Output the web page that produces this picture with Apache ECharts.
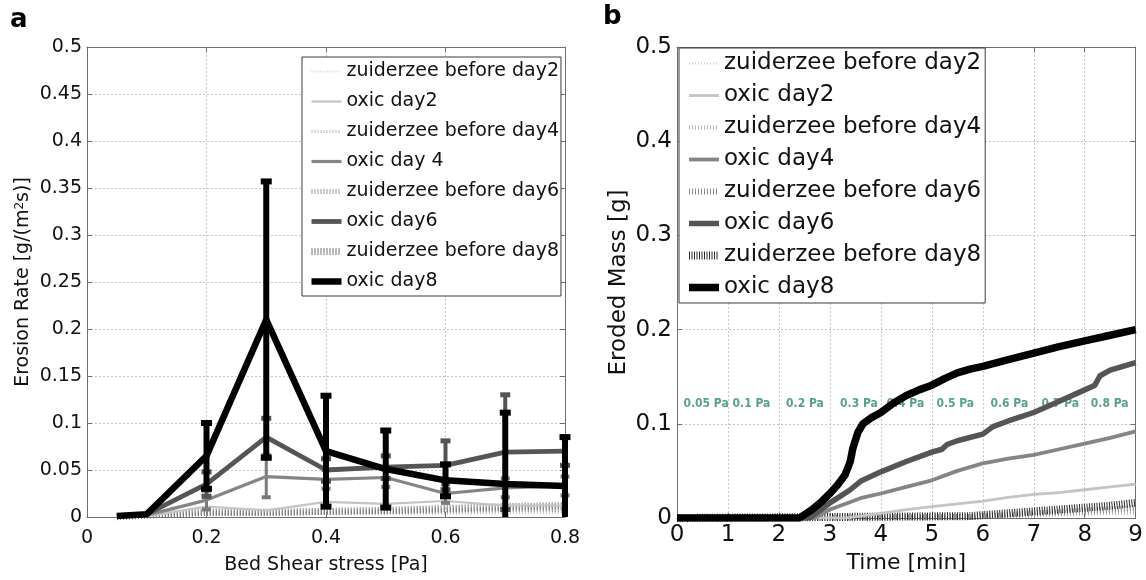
<!DOCTYPE html>
<html><head><meta charset="utf-8">
<script src="https://cdn.jsdelivr.net/npm/echarts/dist/echarts.min.js"></script>
<style>html,body{margin:0;padding:0;background:#fff}#c{width:1146px;height:580px}</style>
</head><body><div id="c"></div>
<script>
// ---------- Panel a data ----------
const xStress = [0.05, 0.1, 0.2, 0.3, 0.4, 0.5, 0.6, 0.7, 0.8];
const aZd2 = [0, 0.001, 0.002, 0.002, 0.003, 0.003, 0.003, 0.004, 0.004];
const aZd4 = [0, 0.001, 0.003, 0.003, 0.004, 0.004, 0.005, 0.006, 0.006];
const aZd6 = [0, 0.001, 0.004, 0.004, 0.005, 0.006, 0.007, 0.008, 0.009];
const aZd8 = [0, 0.002, 0.005, 0.005, 0.006, 0.007, 0.009, 0.011, 0.012];
const aOx2 = [0.001, 0.001, 0.011, 0.007, 0.016, 0.014, 0.017, 0.012, 0.012];
const aOx4 = [0.001, 0.002, 0.018, 0.043, 0.040, 0.042, 0.025, 0.031, 0.033];
const aOx6 = [0.001, 0.003, 0.035, 0.085, 0.050, 0.053, 0.055, 0.069, 0.070];
const aOx8 = [0.001, 0.003, 0.065, 0.210, 0.070, 0.051, 0.039, 0.035, 0.033];
const aErr4 = [0, 0, 0.010, 0.022, 0.010, 0.010, 0.010, 0.010, 0.010];
const aErr6 = [0, 0, 0.013, 0.020, 0.012, 0.012, 0.026, 0.061, 0.015];
const aErr8 = [0, 0, 0.035, 0.147, 0.059, 0.041, 0.017, 0.076, 0.052];
const aNames = ['zuiderzee before day2', 'oxic day2', 'zuiderzee before day4', 'oxic day 4',
  'zuiderzee before day6', 'oxic day6', 'zuiderzee before day8', 'oxic day8'];

// ---------- Panel b data ----------
const rT8 = [0, 2.4, 2.65, 2.85, 3.0, 3.15, 3.3, 3.4, 3.45, 3.55, 3.65, 3.8, 4.0, 4.25, 4.5, 4.75, 5.0, 5.25, 5.5, 5.75, 6.0, 6.5, 7.0, 7.5, 8.0, 8.5, 9.0];
const rV8 = [0, 0, 0.009, 0.018, 0.026, 0.035, 0.046, 0.060, 0.074, 0.091, 0.100, 0.106, 0.112, 0.122, 0.130, 0.136, 0.141, 0.148, 0.154, 0.158, 0.161, 0.168, 0.175, 0.182, 0.188, 0.194, 0.200];
const rT6 = [0, 2.6, 2.8, 3.0, 3.2, 3.4, 3.6, 3.8, 4.0, 4.5, 5.0, 5.2, 5.3, 5.5, 6.0, 6.2, 6.5, 7.0, 7.5, 8.0, 8.2, 8.3, 8.5, 9.0];
const rV6 = [0, 0, 0.008, 0.016, 0.023, 0.030, 0.039, 0.044, 0.049, 0.060, 0.070, 0.073, 0.078, 0.082, 0.089, 0.097, 0.103, 0.112, 0.124, 0.136, 0.141, 0.151, 0.157, 0.165];
const rT4 = [0, 2.7, 3.0, 3.35, 3.6, 4.0, 4.5, 5.0, 5.5, 6.0, 6.5, 7.0, 7.5, 8.0, 8.5, 9.0];
const rV4 = [0, 0, 0.009, 0.016, 0.021, 0.026, 0.033, 0.040, 0.050, 0.058, 0.063, 0.067, 0.073, 0.079, 0.085, 0.092];
const rT2 = [0, 3.3, 3.6, 4.0, 4.5, 5.0, 5.5, 6.0, 6.5, 7.0, 7.5, 8.0, 8.5, 9.0];
const rV2 = [0, 0, 0.002, 0.005, 0.009, 0.012, 0.015, 0.018, 0.022, 0.025, 0.027, 0.030, 0.033, 0.036];
const rTz = [0, 5.75, 6.0, 6.5, 7.0, 7.5, 8.0, 8.5, 9.0];
const rZd2 = [0, 0, 0.001, 0.002, 0.002, 0.003, 0.003, 0.004, 0.004];
const rZd4 = [0, 0, 0.001, 0.002, 0.003, 0.004, 0.005, 0.006, 0.007];
const rZd6 = [0, 0.001, 0.002, 0.003, 0.005, 0.006, 0.008, 0.009, 0.011];
const rZd8 = [0, 0.002, 0.003, 0.005, 0.007, 0.009, 0.011, 0.013, 0.016];
const bNames = ['zuiderzee before day2', 'oxic day2', 'zuiderzee before day4', 'oxic day4',
  'zuiderzee before day6', 'oxic day6', 'zuiderzee before day8', 'oxic day8'];
const stageLabels = ['0.05 Pa', '0.1 Pa', '0.2 Pa', '0.3 Pa', '0.4 Pa', '0.5 Pa', '0.6 Pa', '0.7 Pa', '0.8 Pa'];
const stageMid = [0.57, 1.46, 2.51, 3.57, 4.48, 5.46, 6.52, 7.52, 8.49];
const stageLevel = 0.121;

// ---------- helpers ----------
const FF = 'DejaVu Sans';
const zip = (xs, ys) => xs.map((x, i) => [x, ys[i]]);
const RP = 'b|';
function fmtNum(v) { return String(+v.toFixed(3)); }

const styles = {
  zd2: { color: '#cfcfcf', width: 2, type: [1, 2] },
  zd4: { color: '#b5b5b5', width: 3, type: [1, 2] },
  zd6: { color: '#999999', width: 5, type: [1, 2] },
  zd8: { color: '#777777', width: 7, type: [1, 2] },
  ox2: { color: '#c4c4c4', width: 2.2 },
  ox4: { color: '#858585', width: 3.2 },
  ox6: { color: '#555555', width: 4.8 },
  ox8: { color: '#000000', width: 6.5 }
};
const rStyles = {
  zd2: { color: '#cfcfcf', width: 2, type: [1, 2] },
  zd4: { color: '#b0b0b0', width: 4, type: [1, 2] },
  zd6: { color: '#8a8a8a', width: 6, type: [1, 2] },
  zd8: { color: '#2a2a2a', width: 8, type: [1, 1.5] },
  ox2: { color: '#c4c4c4', width: 2.8 },
  ox4: { color: '#858585', width: 3.8 },
  ox6: { color: '#555555', width: 5.5 },
  ox8: { color: '#000000', width: 7.5 }
};

function lineSeries(name, data, st, xi, yi, z) {
  return {
    type: 'line', name: name, data: data, xAxisIndex: xi, yAxisIndex: yi,
    showSymbol: false, symbol: 'none', animation: false, z: z, silent: true,
    lineStyle: { color: st.color, width: st.width, type: st.type || 'solid', cap: 'butt', join: 'round' },
    itemStyle: { color: st.color }
  };
}

function errSeries(means, errs, color, lw, capW, capH, z) {
  return {
    type: 'custom', xAxisIndex: 0, yAxisIndex: 0, z: z, silent: true, animation: false,
    data: xStress.map((x, i) => [x, means[i], errs[i]]),
    encode: { x: 0, y: 1 },
    renderItem: function (params, api) {
      const x = api.value(0), m = api.value(1), e = api.value(2);
      if (!e) return null;
      const lo = Math.max(0, m - e), hi = m + e;
      const p1 = api.coord([x, lo]), p2 = api.coord([x, hi]);
      const ch = [{ type: 'line', shape: { x1: p1[0], y1: p1[1], x2: p2[0], y2: p2[1] }, style: { stroke: color, lineWidth: lw } },
        { type: 'rect', shape: { x: p2[0] - capW / 2, y: p2[1] - capH / 2, width: capW, height: capH }, style: { fill: color } }];
      if (m - e > 0) ch.push({ type: 'rect', shape: { x: p1[0] - capW / 2, y: p1[1] - capH / 2, width: capW, height: capH }, style: { fill: color } });
      return { type: 'group', children: ch };
    }
  };
}

const axisLineStyle = { color: '#6e6e6e', width: 1 };
const splitStyle = { show: true, lineStyle: { color: '#c4c4c4', type: [2, 2], width: 1 } };

function mainX(gi, min, max, interval, fs, margin, name, nameGap, nameFs) {
  return {
    type: 'value', gridIndex: gi, min: min, max: max, interval: interval, position: 'bottom',
    axisLine: { show: true, lineStyle: axisLineStyle, onZero: false },
    axisTick: { show: true, inside: true, length: 5, lineStyle: axisLineStyle },
    axisLabel: { fontFamily: FF, fontSize: fs, color: '#111', margin: margin, formatter: fmtNum, showMinLabel: true, showMaxLabel: true },
    splitLine: splitStyle,
    name: name, nameLocation: 'middle', nameGap: nameGap,
    nameTextStyle: { fontFamily: FF, fontSize: nameFs, color: '#111' }
  };
}
function boxX(gi, min, max, interval) {
  return {
    type: 'value', gridIndex: gi, min: min, max: max, interval: interval, position: 'top',
    axisLine: { show: true, lineStyle: axisLineStyle, onZero: false },
    axisTick: { show: true, inside: true, length: 5, lineStyle: axisLineStyle },
    axisLabel: { show: false }, splitLine: { show: false }
  };
}
function mainY(gi, interval, fs, name, nameGap, nameFs, rich) {
  return {
    type: 'value', gridIndex: gi, min: 0, max: 0.5, interval: interval, position: 'left',
    axisLine: { show: true, lineStyle: axisLineStyle, onZero: false },
    axisTick: { show: true, inside: true, length: 5, lineStyle: axisLineStyle },
    axisLabel: { fontFamily: FF, fontSize: fs, color: '#111', margin: 5, formatter: fmtNum },
    splitLine: splitStyle,
    name: name, nameLocation: 'middle', nameGap: nameGap,
    nameTextStyle: { fontFamily: FF, fontSize: nameFs, color: '#111', rich: rich || {} }
  };
}
function boxY(gi, interval) {
  return {
    type: 'value', gridIndex: gi, min: 0, max: 0.5, interval: interval, position: 'right',
    axisLine: { show: true, lineStyle: axisLineStyle, onZero: false },
    axisTick: { show: true, inside: true, length: 5, lineStyle: axisLineStyle },
    axisLabel: { show: false }, splitLine: { show: false }
  };
}

const series = [];
// panel a
series.push(lineSeries(aNames[0], zip(xStress, aZd2), styles.zd2, 0, 0, 2));
series.push(lineSeries(aNames[2], zip(xStress, aZd4), styles.zd4, 0, 0, 2));
series.push(lineSeries(aNames[4], zip(xStress, aZd6), styles.zd6, 0, 0, 2));
series.push(lineSeries(aNames[6], zip(xStress, aZd8), styles.zd8, 0, 0, 2));
series.push(lineSeries(aNames[1], zip(xStress, aOx2), styles.ox2, 0, 0, 3));
series.push(lineSeries(aNames[3], zip(xStress, aOx4), styles.ox4, 0, 0, 4));
series.push(errSeries(aOx4, aErr4, '#7a7a7a', 3, 9, 4, 4));
series.push(lineSeries(aNames[5], zip(xStress, aOx6), styles.ox6, 0, 0, 5));
series.push(errSeries(aOx6, aErr6, '#555555', 4, 10, 5, 5));
series.push(lineSeries(aNames[7], zip(xStress, aOx8), styles.ox8, 0, 0, 6));
series.push(errSeries(aOx8, aErr8, '#000000', 6, 11, 6, 6));
// panel b
series.push({
  type: 'scatter', xAxisIndex: 2, yAxisIndex: 2, symbolSize: 0, z: 1, silent: true, animation: false,
  data: stageMid.map((t, i) => ({ name: stageLabels[i], value: [t, stageLevel] })),
  label: { show: true, position: 'inside', formatter: '{b}', color: '#2f8a68', fontFamily: 'DejaVu Sans Condensed', fontWeight: 'bold', fontSize: 12 }
});
series.push(lineSeries(RP + bNames[0], zip(rTz, rZd2), rStyles.zd2, 2, 2, 2));
series.push(lineSeries(RP + bNames[2], zip(rTz, rZd4), rStyles.zd4, 2, 2, 2));
series.push(lineSeries(RP + bNames[4], zip(rTz, rZd6), rStyles.zd6, 2, 2, 2));
series.push(lineSeries(RP + bNames[6], zip(rTz, rZd8), rStyles.zd8, 2, 2, 2));
series.push(lineSeries(RP + bNames[1], zip(rT2, rV2), rStyles.ox2, 2, 2, 3));
series.push(lineSeries(RP + bNames[3], zip(rT4, rV4), rStyles.ox4, 2, 2, 4));
series.push(lineSeries(RP + bNames[5], zip(rT6, rV6), rStyles.ox6, 2, 2, 5));
series.push(lineSeries(RP + bNames[7], zip(rT8, rV8), rStyles.ox8, 2, 2, 6));

const legendBase = {
  orient: 'vertical', backgroundColor: '#fff', borderColor: '#3a3a3a', borderWidth: 1, borderRadius: 0,
  selectedMode: false,
  itemStyle: { opacity: 0 },
  lineStyle: { width: 'inherit', type: 'inherit', color: 'inherit', cap: 'butt' }
};

const option = {
  backgroundColor: '#fff',
  animation: false,
  grid: [
    { left: 87, top: 47, width: 478, height: 471, containLabel: false },
    { left: 677, top: 47, width: 459, height: 471, containLabel: false }
  ],
  xAxis: [
    mainX(0, 0, 0.8, 0.2, 19, 12, 'Bed Shear stress [Pa]', 39, 19),
    boxX(0, 0, 0.8, 0.2),
    mainX(1, 0, 9, 1, 23, 6, 'Time [min]', 33, 22),
    boxX(1, 0, 9, 1)
  ],
  yAxis: [
    mainY(0, 0.05, 19, 'Erosion Rate [g/(m{sup|2}s)]', 54, 19, { sup: { fontSize: 12, fontFamily: FF, color: '#111', verticalAlign: 'top', lineHeight: 14 } }),
    boxY(0, 0.05),
    mainY(1, 0.1, 23, 'Eroded Mass [g]', 46, 23),
    boxY(1, 0.1)
  ],
  legend: [
    Object.assign({}, legendBase, {
      left: 302, top: 57, padding: [5, 2, 5, 6], itemGap: 11, itemWidth: 30, itemHeight: 14,
      data: aNames,
      textStyle: { fontFamily: FF, fontSize: 19, color: '#111' }
    }),
    Object.assign({}, legendBase, {
      left: 679, top: 48, padding: [4, 4, 4, 6], itemGap: 9, itemWidth: 30, itemHeight: 14,
      data: bNames.map(n => RP + n),
      formatter: n => n.slice(RP.length),
      textStyle: { fontFamily: FF, fontSize: 23, color: '#111' }
    })
  ],
  graphic: [
    { type: 'text', left: 10, top: 7, style: { text: 'a', font: 'bold 26px "DejaVu Sans"', fill: '#000' } },
    { type: 'text', left: 603, top: 4, style: { text: 'b', font: 'bold 26px "DejaVu Sans"', fill: '#000' } }
  ],
  series: series
};

const chart = echarts.init(document.getElementById('c'), null, { renderer: 'canvas' });
chart.setOption(option);
</script></body></html>
